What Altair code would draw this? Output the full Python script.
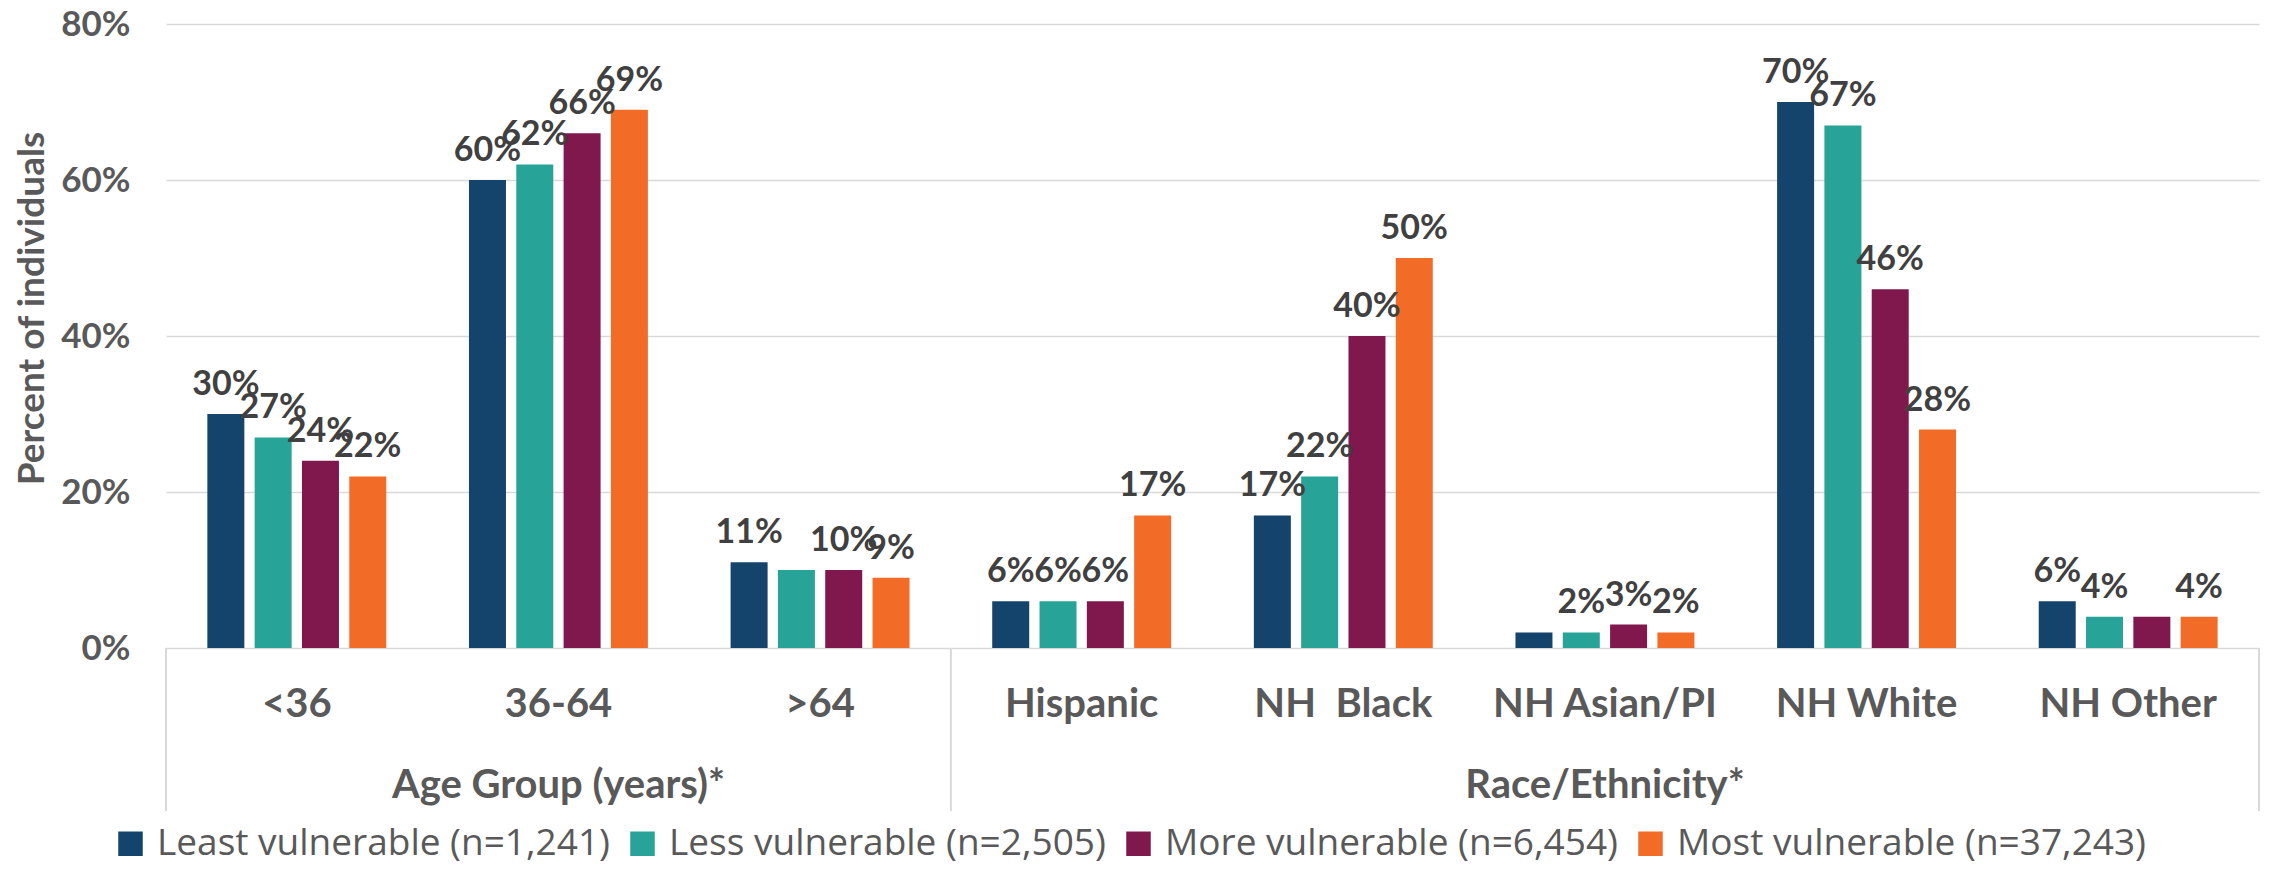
import altair as alt
import pandas as pd

categories = ["<36", "36-64", ">64", "Hispanic", "NH\u00a0 Black", "NH Asian/PI", "NH White", "NH Other"]
series = [
    "Least vulnerable (n=1,241)",
    "Less vulnerable (n=2,505)",
    "More vulnerable (n=6,454)",
    "Most vulnerable (n=37,243)",
]
colors = ["#14436B", "#27A397", "#80174D", "#F36C27"]

least = [30, 60, 11, 6, 17, 2, 70, 6]
less = [27, 62, 10, 6, 22, 2, 67, 4]
more = [24, 66, 10, 6, 40, 3, 46, 4]
most = [22, 69, 9, 17, 50, 2, 28, 4]

# data labels that the reference does not show
hidden_labels = [(">64", 1), ("NH Asian/PI", 0), ("NH Other", 2)]

groups = ["Age Group (years)*", "Race/Ethnicity*"]
group_center_cat = ["36-64", "NH Asian/PI"]
sep_left = ["<36", "Hispanic"]
sep_right = ["NH Other"]

rows = []
for si, (s, vals) in enumerate(zip(series, [least, less, more, most])):
    for c, v in zip(categories, vals):
        lab = "" if (c, si) in hidden_labels else f"{v}%"
        rows.append({"category": c, "series": s, "value": v, "label": lab})
df = pd.DataFrame(rows)

GRAY = "#595959"
FONT = "Lato"
W, H = 2093, 624

xscale = alt.Scale(domain=categories, paddingInner=0, paddingOuter=0)
xaxis = alt.Axis(
    title=None, labelAngle=0, domain=False, ticks=False, tickSize=0, grid=False,
    labelFont=FONT, labelFontWeight="bold", labelFontSize=40, labelColor=GRAY,
    labelBaseline="middle", labelPadding=56, labelLimit=1000,
)
yscale = alt.Scale(domain=[0, 80], nice=False)
yaxis = alt.Axis(
    values=[0, 20, 40, 60, 80], labelExpr="datum.value + '%'",
    grid=True, gridColor="#d9d9d9", gridWidth=1.5, domain=False, ticks=False, tickSize=0,
    labelFont=FONT, labelFontWeight="bold", labelFontSize=35, labelColor=GRAY, labelPadding=36,
    title="Percent of individuals", titleFont=FONT, titleFontWeight="bold", titleFontSize=37,
    titleColor=GRAY, titleAngle=-90, titleX=-134, titleY=284, titleAlign="center",
    titleBaseline="middle",
)
xoff = alt.XOffset("series:N", sort=series,
                   scale=alt.Scale(domain=series, paddingInner=0.218, paddingOuter=0.874))

bars = alt.Chart(df).mark_bar().encode(
    x=alt.X("category:N", sort=categories, scale=xscale, axis=xaxis),
    xOffset=xoff,
    y=alt.Y("value:Q", scale=yscale, axis=yaxis),
    color=alt.Color(
        "series:N", sort=series, scale=alt.Scale(domain=series, range=colors),
        legend=alt.Legend(
            title=None, orient="none", legendX=-54, legendY=801, direction="horizontal",
            columns=4, symbolType="square", symbolSize=600, symbolStrokeWidth=0,
            labelFont="Open Sans", labelFontSize=37, labelColor=GRAY, labelLimit=1000,
            columnPadding=14, labelOffset=8,
        ),
    ),
)

labels = alt.Chart(df).mark_text(
    font=FONT, fontWeight="bold", fontSize=34, color="#404040", baseline="alphabetic", dy=-19
).encode(
    x=alt.X("category:N", sort=categories, scale=xscale, axis=xaxis),
    xOffset=xoff,
    y=alt.Y("value:Q", scale=yscale, axis=yaxis),
    text="label:N",
)

gdf = pd.DataFrame({"category": group_center_cat, "group": groups})
group_text = alt.Chart(gdf).mark_text(
    font=FONT, fontWeight="bold", fontSize=40, color=GRAY, baseline="middle", align="center"
).encode(
    x=alt.X("category:N", sort=categories, scale=xscale, axis=xaxis, bandPosition=0.5),
    y=alt.value(762),
    text="group:N",
)

sep_l = alt.Chart(pd.DataFrame({"category": sep_left})).mark_rule(
    color="#d9d9d9", strokeWidth=2
).encode(
    x=alt.X("category:N", sort=categories, scale=xscale, axis=xaxis, bandPosition=0),
    y=alt.value(H), y2=alt.value(787),
)
sep_r = alt.Chart(pd.DataFrame({"category": sep_right})).mark_rule(
    color="#d9d9d9", strokeWidth=2
).encode(
    x=alt.X("category:N", sort=categories, scale=xscale, axis=xaxis, bandPosition=1),
    y=alt.value(H), y2=alt.value(787),
)

chart = alt.layer(bars, labels, group_text, sep_l, sep_r).properties(
    width=W, height=H,
    autosize=alt.AutoSizeParams(type="none"),
    padding={"left": 166, "top": 24, "right": 11, "bottom": 231},
    background="white",
).configure_view(stroke=None)

chart.save("out.html", embed_options={"renderer": "svg", "actions": False})
